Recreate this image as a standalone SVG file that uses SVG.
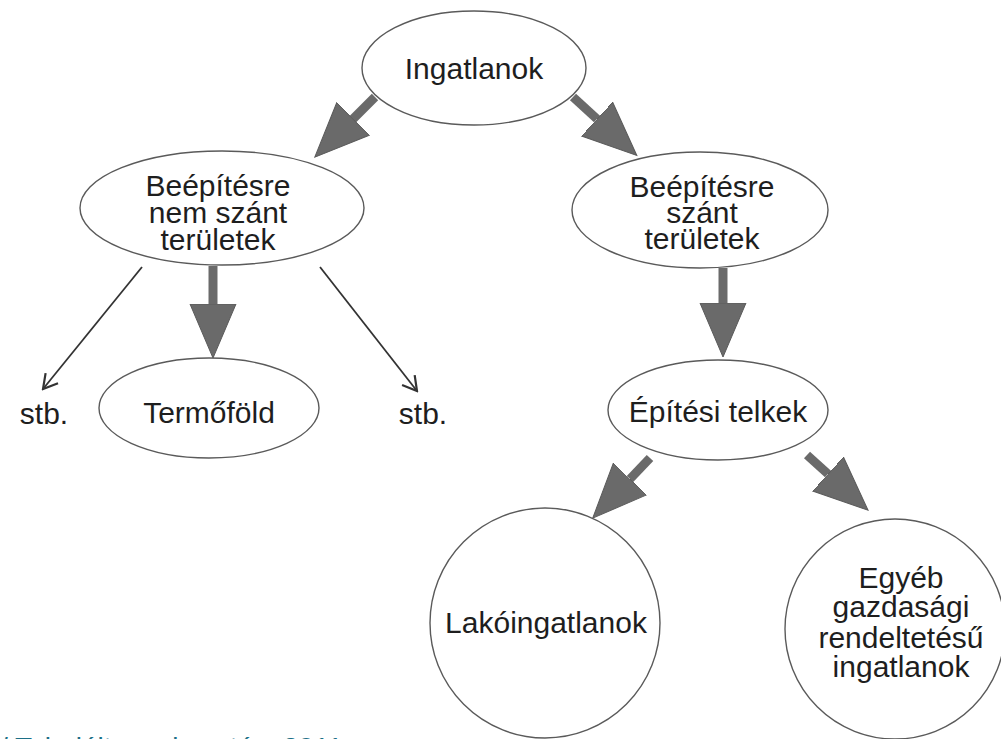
<svg xmlns="http://www.w3.org/2000/svg" width="1001" height="739" viewBox="0 0 1001 739">
<style>
  .node { fill: #ffffff; stroke: #5a5a5a; stroke-width: 1.4; }
  .lbl { font-family: "Liberation Sans", Arial, sans-serif; font-size: 30px; fill: #1e1e1e; text-anchor: middle; }
  .thick { stroke: #6a6a6a; stroke-width: 9; fill: none; }
  .thin { stroke: #333333; stroke-width: 1.8; fill: none; }
  .cap { font-family: "Liberation Sans", Arial, sans-serif; font-size: 28px; fill: #1c6f87; }
</style>
<defs>
  <marker id="bighead" markerUnits="userSpaceOnUse" viewBox="0 -25 56 50" refX="0" refY="0" markerWidth="56" markerHeight="50" orient="auto">
    <path d="M0,-23 L54,0 L0,23 Z" fill="#6a6a6a" stroke="#5a5a5a" stroke-width="1"/>
  </marker>
  <marker id="openhead" markerUnits="userSpaceOnUse" viewBox="-16 -10 18 20" refX="0" refY="0" markerWidth="18" markerHeight="20" orient="auto">
    <path d="M-14,-8 L0,0 L-14,8" fill="none" stroke="#333333" stroke-width="2.2"/>
  </marker>
</defs>
<rect width="1001" height="739" fill="#ffffff"/>
<g id="connectors">
  <line class="thick" x1="375" y1="97" x2="353" y2="119" marker-end="url(#bighead)"/>
  <line class="thick" x1="573" y1="97" x2="597" y2="119" marker-end="url(#bighead)"/>
  <line class="thick" x1="213" y1="266" x2="213" y2="304" marker-end="url(#bighead)"/>
  <line class="thick" x1="723" y1="268" x2="723" y2="303" marker-end="url(#bighead)"/>
  <line class="thick" x1="650" y1="458" x2="630" y2="479" marker-end="url(#bighead)"/>
  <line class="thick" x1="807" y1="455" x2="828" y2="474" marker-end="url(#bighead)"/>
  <line class="thin" x1="142" y1="267" x2="43" y2="389" marker-end="url(#openhead)"/>
  <line class="thin" x1="320" y1="267" x2="417" y2="391" marker-end="url(#openhead)"/>
</g>
<g id="n-ingatlanok">
  <ellipse class="node" cx="474" cy="68" rx="112" ry="57"/>
  <text class="lbl" x="474" y="79">Ingatlanok</text>
</g>
<g id="n-nemszant">
  <ellipse class="node" cx="222" cy="208" rx="142" ry="57"/>
  <text class="lbl" x="218" y="196">Beépítésre</text>
  <text class="lbl" x="218" y="223">nem szánt</text>
  <text class="lbl" x="218" y="250">területek</text>
</g>
<g id="n-szant">
  <ellipse class="node" cx="700" cy="210" rx="128" ry="58"/>
  <text class="lbl" x="702" y="197">Beépítésre</text>
  <text class="lbl" x="702" y="223">szánt</text>
  <text class="lbl" x="702" y="249">területek</text>
</g>
<g id="n-stb1">
  <text class="lbl" x="44" y="424">stb.</text>
</g>
<g id="n-termofold">
  <ellipse class="node" cx="209" cy="408" rx="110" ry="50"/>
  <text class="lbl" x="209" y="423">Termőföld</text>
</g>
<g id="n-stb2">
  <text class="lbl" x="423" y="424">stb.</text>
</g>
<g id="n-epitesi">
  <ellipse class="node" cx="718" cy="410" rx="110" ry="50"/>
  <text class="lbl" x="718" y="422">Építési telkek</text>
</g>
<g id="n-lako">
  <circle class="node" cx="545" cy="623" r="115"/>
  <text class="lbl" x="546" y="633">Lakóingatlanok</text>
</g>
<g id="n-egyeb">
  <circle class="node" cx="895" cy="629" r="110"/>
  <text class="lbl" x="901" y="588">Egyéb</text>
  <text class="lbl" x="901" y="617">gazdasági</text>
  <text class="lbl" x="901" y="648">rendeltetésű</text>
  <text class="lbl" x="901" y="677">ingatlanok</text>
</g>
<text class="cap" x="0" y="757">/ Tabulált szerkesztés, 2011</text>
</svg>
